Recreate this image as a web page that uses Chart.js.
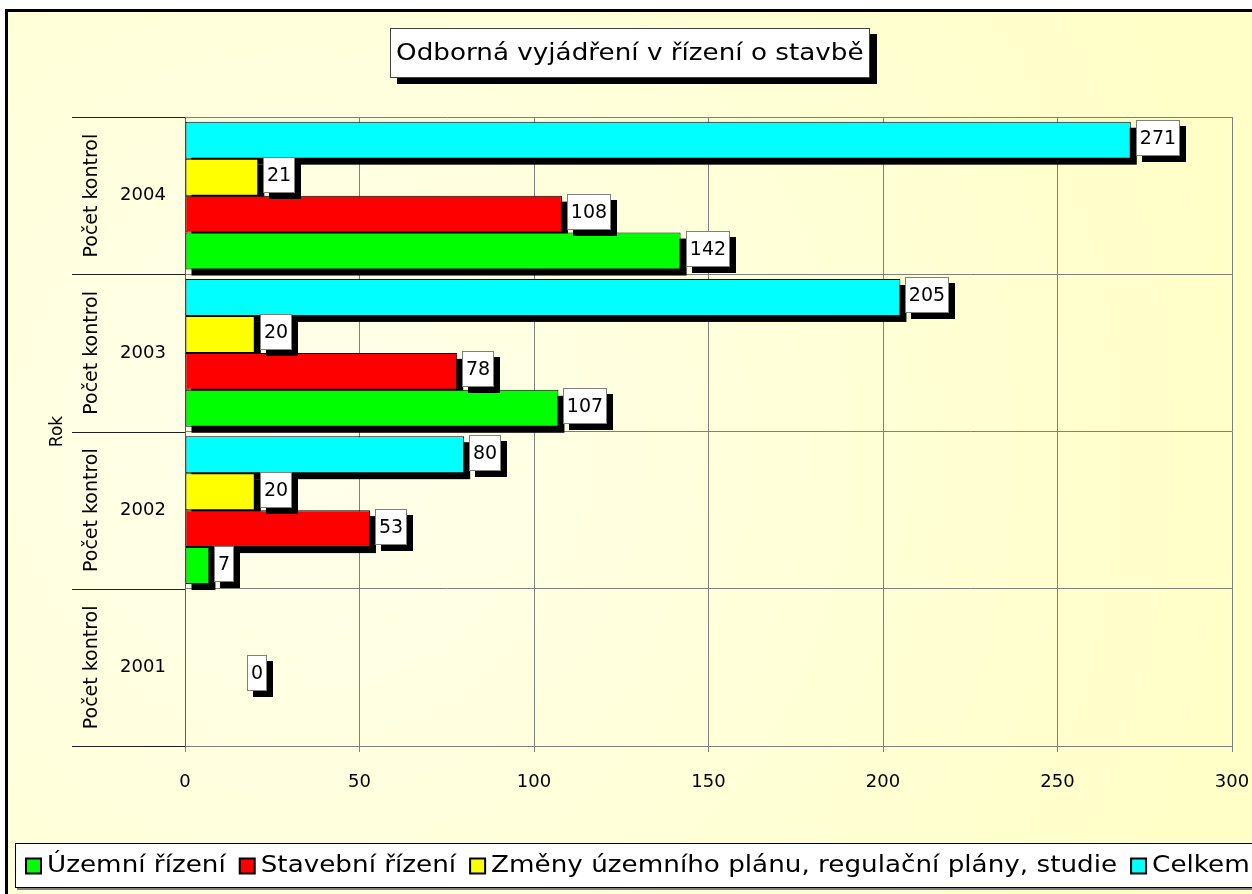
<!DOCTYPE html>
<html>
<head>
<meta charset="utf-8">
<title>Odborná vyjádření v řízení o stavbě</title>
<style>
  html, body { margin: 0; padding: 0; background: #fff; }
  #wrap { position: relative; width: 1252px; height: 894px; }
  canvas { display: block; }
</style>
<script src="https://cdn.jsdelivr.net/npm/chart.js@4.4.1/dist/chart.umd.min.js"></script>
</head>
<body>
<div id="wrap"><canvas id="chart" width="1252" height="894"></canvas></div>
<script>
// --- data ---
const years = ['2004', '2003', '2002', '2001'];
const groupLabel = 'Počet kontrol';
const axisTitle = 'Rok';
const chartTitle = 'Odborná vyjádření v řízení o stavbě';

const uzemni = [142, 107, 7, null];
const stavebni = [108, 78, 53, null];
const zmeny = [21, 20, 20, null];
const celkem = [271, 205, 80, 0];

const seriesNames = ['Územní řízení', 'Stavební řízení', 'Změny územního plánu, regulační plány, studie', 'Celkem'];
const seriesColors = ['#00FF00', '#FF0000', '#FFFF00', '#00FFFF'];

const FONT = '"DejaVu Sans", Verdana, sans-serif';
const STRETCH = 1.14; // the original text is a bit wider than DejaVu

// Excel draws the last series on top inside each group, so datasets go in reverse
const datasets = [
  { label: seriesNames[3], data: celkem, backgroundColor: seriesColors[3] },
  { label: seriesNames[2], data: zmeny, backgroundColor: seriesColors[2] },
  { label: seriesNames[1], data: stavebni, backgroundColor: seriesColors[1] },
  { label: seriesNames[0], data: uzemni, backgroundColor: seriesColors[0] },
].map(d => ({ ...d, borderColor: '#000', borderWidth: 1, borderSkipped: false }));

function wideText(ctx, text, x, y) {
  ctx.save();
  ctx.translate(x, y);
  ctx.scale(STRETCH, 1);
  ctx.fillText(text, 0, 0);
  ctx.restore();
}

// background + outer frame
const backdrop = {
  id: 'backdrop',
  beforeDraw(chart) {
    const { ctx, width, height } = chart;
    ctx.save();
    ctx.fillStyle = '#fff';
    ctx.fillRect(0, 0, width, height);
    const g = ctx.createRadialGradient(300, 450, 0, 300, 450, 950);
    g.addColorStop(0, '#FFFFEC');
    g.addColorStop(1, '#FFFFC8');
    ctx.fillStyle = g;
    ctx.fillRect(6, 10, width, height);
    ctx.fillStyle = '#000';
    ctx.fillRect(5, 9, width, 3);
    ctx.fillRect(5, 9, 3, height);
    ctx.restore();
  }
};

// black drop shadows under every bar
const barShadows = {
  id: 'barShadows',
  beforeDatasetsDraw(chart) {
    const ctx = chart.ctx;
    ctx.save();
    ctx.fillStyle = '#000';
    chart.data.datasets.forEach((ds, i) => {
      chart.getDatasetMeta(i).data.forEach((bar, j) => {
        if (!ds.data[j]) return;
        const p = bar.getProps(['x', 'y', 'base', 'height'], true);
        ctx.fillRect(Math.min(p.base, p.x) + 6, p.y - p.height / 2 + 6, Math.abs(p.x - p.base), p.height);
      });
    });
    ctx.restore();
  }
};

// boxed value labels
const valueLabels = {
  id: 'valueLabels',
  afterDatasetsDraw(chart) {
    const ctx = chart.ctx;
    const xs = chart.scales.x, ys = chart.scales.y;
    ctx.save();
    ctx.font = '19px ' + FONT;
    ctx.textAlign = 'center';
    ctx.textBaseline = 'middle';
    chart.data.datasets.forEach((ds, i) => {
      chart.getDatasetMeta(i).data.forEach((bar, j) => {
        const v = ds.data[j];
        if (v === null || v === undefined) return;
        const text = String(v);
        const w = Math.round(ctx.measureText(text).width) + 8, h = 36;
        let left, cy;
        if (v === 0) {
          left = xs.getPixelForValue(0) + 62;
          cy = ys.getPixelForValue(j) + 6;
        } else {
          left = bar.x + 5;
          cy = bar.y - 2;
        }
        const top = Math.round(cy - h / 2);
        left = Math.round(left);
        ctx.fillStyle = '#000';
        ctx.fillRect(left + 6, top + 6, w, h);
        ctx.fillStyle = '#fff';
        ctx.fillRect(left, top, w, h);
        ctx.strokeStyle = '#808080';
        ctx.lineWidth = 1;
        ctx.strokeRect(left + 0.5, top + 0.5, w - 1, h - 1);
        ctx.fillStyle = '#000';
        ctx.fillText(text, left + w / 2, top + h / 2 + 1);
      });
    });
    ctx.restore();
  }
};

// two-level category labels on the left
const categoryLabels = {
  id: 'categoryLabels',
  afterDraw(chart) {
    const ctx = chart.ctx;
    const ys = chart.scales.y;
    const area = chart.chartArea;
    const band = (area.bottom - area.top) / years.length;
    ctx.save();
    ctx.strokeStyle = '#202020';
    ctx.lineWidth = 1;
    for (let k = 0; k <= years.length; k++) {
      const y = Math.round(area.top + k * band) + 0.5;
      ctx.beginPath();
      ctx.moveTo(72, y);
      ctx.lineTo(area.left, y);
      ctx.stroke();
    }
    ctx.fillStyle = '#000';
    ctx.textAlign = 'center';
    ctx.textBaseline = 'middle';
    years.forEach((yr, j) => {
      const cy = ys.getPixelForValue(j);
      ctx.font = '18px ' + FONT;
      ctx.fillText(yr, 143, cy);
      ctx.save();
      ctx.font = '19px ' + FONT;
      ctx.translate(92, cy);
      ctx.rotate(-Math.PI / 2);
      ctx.fillText(groupLabel, 0, 0);
      ctx.restore();
    });
    ctx.restore();
  }
};

// title box and legend box
const frames = {
  id: 'frames',
  afterDraw(chart) {
    const ctx = chart.ctx;
    ctx.save();
    // title
    ctx.font = '23px ' + FONT;
    const tw = ctx.measureText(chartTitle).width * STRETCH;
    const bw = Math.round(tw + 12), bh = 50;
    const bx = Math.round(630 - bw / 2), by = 28;
    ctx.fillStyle = '#000';
    ctx.fillRect(bx + 7, by + 6, bw, bh);
    ctx.fillStyle = '#fff';
    ctx.fillRect(bx, by, bw, bh);
    ctx.strokeStyle = '#404040';
    ctx.strokeRect(bx + 0.5, by + 0.5, bw - 1, bh - 1);
    ctx.fillStyle = '#000';
    ctx.textAlign = 'left';
    ctx.textBaseline = 'middle';
    wideText(ctx, chartTitle, bx + 6, by + bh / 2 + 1);

    // legend
    const ly = 843, lh = 45;
    ctx.fillStyle = '#808080';
    ctx.fillRect(17, ly + 2, chart.width, lh);
    ctx.fillStyle = '#fff';
    ctx.fillRect(15, ly, chart.width, lh);
    ctx.strokeStyle = '#000';
    ctx.strokeRect(15.5, ly + 0.5, chart.width, lh - 1);
    ctx.font = '23px ' + FONT;
    let x = 25;
    const cy = ly + lh / 2;
    seriesNames.forEach((name, k) => {
      ctx.fillStyle = '#000';
      ctx.fillRect(x, cy - 8, 17, 17);
      ctx.fillStyle = seriesColors[k];
      ctx.fillRect(x + 2, cy - 6, 13, 13);
      x += 17 + 5;
      ctx.fillStyle = '#000';
      wideText(ctx, name, x, cy + 1);
      x += ctx.measureText(name).width * STRETCH + 13;
    });
    ctx.restore();
  }
};

new Chart(document.getElementById('chart'), {
  type: 'bar',
  data: { labels: years, datasets },
  options: {
    responsive: false,
    animation: false,
    indexAxis: 'y',
    layout: { padding: { top: 117, right: 2, left: 0, bottom: 0 } },
    datasets: { bar: { categoryPercentage: 0.94, barPercentage: 1 } },
    plugins: {
      legend: { display: false },
      title: { display: false },
      tooltip: { enabled: false }
    },
    scales: {
      x: {
        type: 'linear',
        min: 0,
        max: 300,
        ticks: { stepSize: 50, color: '#000', font: { family: FONT, size: 18 }, padding: 20 },
        grid: { color: '#808080', tickLength: 6, tickColor: '#808080' },
        border: { color: '#808080' },
        afterFit(s) {
          s.height = 894 - 746;
          s.paddingLeft = 0;
          s.paddingRight = 20;
        }
      },
      y: {
        ticks: { display: false },
        grid: { color: '#808080', drawTicks: false, offset: true },
        border: { color: '#606060' },
        title: { display: true, text: axisTitle, color: '#000', font: { family: FONT, size: 17 }, padding: { top: 47, bottom: 0 } },
        afterFit(s) { s.width = 185; }
      }
    }
  },
  plugins: [backdrop, barShadows, valueLabels, categoryLabels, frames]
});
</script>
</body>
</html>
